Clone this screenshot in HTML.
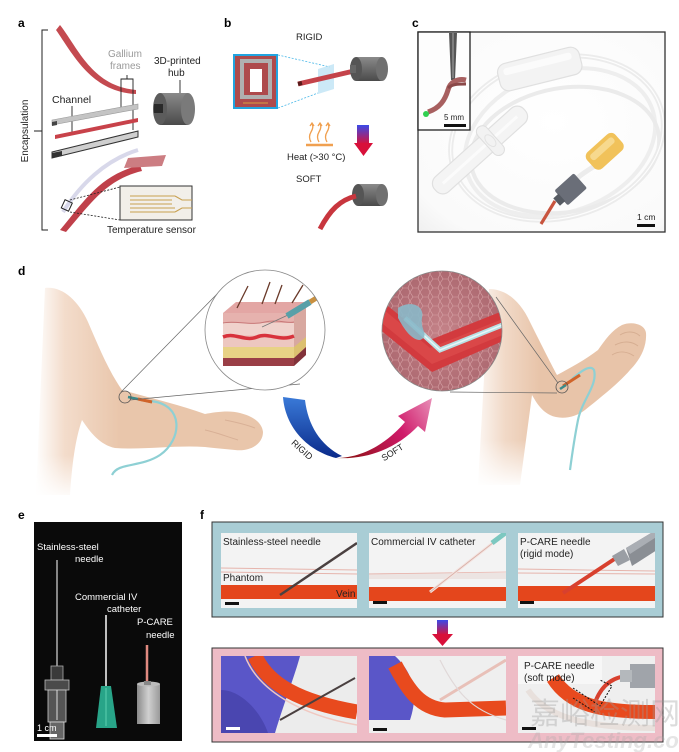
<!DOCTYPE html>
<html><head><meta charset="utf-8"><style>
html,body{margin:0;padding:0;background:#fff;}
svg{display:block}
text{font-family:"Liberation Sans",Arial,sans-serif;}
</style></head><body>
<svg width="679" height="752" viewBox="0 0 679 752" xmlns="http://www.w3.org/2000/svg">
<defs>
  <linearGradient id="skinL" gradientUnits="userSpaceOnUse" x1="35" y1="0" x2="120" y2="0">
    <stop offset="0" stop-color="#ffffff"/><stop offset="0.35" stop-color="#f3dccb"/><stop offset="1" stop-color="#e9c6ab"/>
  </linearGradient>
  <linearGradient id="skinR" gradientUnits="userSpaceOnUse" x1="470" y1="0" x2="540" y2="0">
    <stop offset="0" stop-color="#ffffff"/><stop offset="0.5" stop-color="#f1d9c7"/><stop offset="1" stop-color="#e8c4a9"/>
  </linearGradient>
  <linearGradient id="fadeB" x1="0" y1="0" x2="0" y2="1">
    <stop offset="0" stop-color="#fff" stop-opacity="0"/><stop offset="1" stop-color="#fff" stop-opacity="1"/>
  </linearGradient>
  <linearGradient id="bluegrad" x1="0" y1="0" x2="0" y2="1">
    <stop offset="0" stop-color="#3a7ad8"/><stop offset="1" stop-color="#0a2a8a"/>
  </linearGradient>
  <linearGradient id="pinkgrad" gradientUnits="userSpaceOnUse" x1="340" y1="455" x2="432" y2="398">
    <stop offset="0" stop-color="#8a1010"/><stop offset="0.6" stop-color="#d01a6a"/><stop offset="1" stop-color="#e890b8"/>
  </linearGradient>
  <linearGradient id="arrowBR" x1="0" y1="0" x2="0" y2="1">
    <stop offset="0" stop-color="#3a4ae8"/><stop offset="1" stop-color="#d8103a"/>
  </linearGradient>
  <linearGradient id="cylG" x1="0" y1="0" x2="0" y2="1">
    <stop offset="0" stop-color="#8a8a8a"/><stop offset="0.5" stop-color="#6a6a6a"/><stop offset="1" stop-color="#4a4a4a"/>
  </linearGradient>
  <linearGradient id="pcareG" x1="0" y1="0" x2="1" y2="0">
    <stop offset="0" stop-color="#8a8a8a"/><stop offset="0.5" stop-color="#d0d0d0"/><stop offset="1" stop-color="#9a9a9a"/>
  </linearGradient>
  <radialGradient id="cellG" cx="0.5" cy="0.5" r="0.6">
    <stop offset="0" stop-color="#c48288"/><stop offset="1" stop-color="#a8646c"/>
  </radialGradient>
  <radialGradient id="photoBg" cx="0.55" cy="0.45" r="0.8">
    <stop offset="0" stop-color="#ffffff"/><stop offset="0.8" stop-color="#fafafa"/><stop offset="1" stop-color="#eeeeee"/>
  </radialGradient>
  <pattern id="cells" width="10" height="9" patternUnits="userSpaceOnUse">
    <path d="M0,4 L3,0 L8,0 L10,4 L8,9 L3,9 Z" fill="none" stroke="#d7a2a6" stroke-width="0.6"/>
  </pattern>
  <clipPath id="cL"><circle cx="265" cy="330" r="60"/></clipPath>
  <clipPath id="cR"><circle cx="442" cy="331" r="60"/></clipPath>
  <clipPath id="p1"><rect x="221" y="533" width="136" height="75"/></clipPath>
  <clipPath id="p2"><rect x="369" y="533" width="137" height="75"/></clipPath>
  <clipPath id="p3"><rect x="518" y="533" width="137" height="75"/></clipPath>
  <clipPath id="p4"><rect x="221" y="656" width="136" height="77"/></clipPath>
  <clipPath id="p5"><rect x="369" y="656" width="137" height="77"/></clipPath>
  <clipPath id="p6"><rect x="518" y="656" width="137" height="77"/></clipPath>
  <clipPath id="pc"><rect x="418" y="32" width="247" height="200"/></clipPath>
</defs>

<!-- ================= PANEL A ================= -->
<text x="18" y="27" font-size="12" font-weight="bold">a</text>
<path d="M48,30 L42,30 L42,230 L48,230 M42,131 L34,131" fill="none" stroke="#222" stroke-width="1"/>
<text transform="translate(28,131) rotate(-90)" text-anchor="middle" font-size="10" fill="#222">Encapsulation</text>
<path d="M60,25 C78,48 92,86 136,90 L136,94 C92,92 74,56 56,30 Z" fill="#c44a50"/>
<text x="108" y="57" font-size="10" fill="#9a9a9a">Gallium</text>
<text x="110" y="69" font-size="10" fill="#9a9a9a">frames</text>
<path d="M121,107 L121,79 L133,79 L133,130 M127,79 L127,75" fill="none" stroke="#222" stroke-width="0.9"/>
<text x="154" y="64" font-size="10" fill="#222">3D-printed</text>
<text x="168" y="76" font-size="10" fill="#222">hub</text>
<line x1="180" y1="80" x2="180" y2="104" stroke="#222" stroke-width="0.9"/>
<rect x="160" y="93" width="28" height="32" fill="url(#cylG)"/>
<ellipse cx="188" cy="109" rx="7" ry="16" fill="#7a7a7a"/>
<ellipse cx="160" cy="109" rx="7" ry="16" fill="#5c5c5c"/>
<rect x="154" y="104" width="9" height="9" fill="#2a2a2a"/>
<text x="52" y="103" font-size="10.5" fill="#222">Channel</text>
<line x1="72" y1="106" x2="72" y2="133" stroke="#222" stroke-width="0.9"/>
<polygon points="52,120 138,104 138,109 52,125" fill="#c4c4c4" stroke="#9a9a9a" stroke-width="0.6"/>
<polygon points="52,122 57,121 57,125 52,126" fill="#444"/>
<polygon points="55,135 138,118 138,122 55,139" fill="#c8424a"/>
<polygon points="52,152 138,131 138,137 52,158" fill="#cfcfcf" stroke="#333" stroke-width="1"/>
<polygon points="52,153 62,151 62,156 52,158" fill="#333"/>
<path d="M63,212 C80,185 105,160 138,150" fill="none" stroke="#d8d8ea" stroke-width="4"/>
<path d="M60,230 C85,200 100,175 140,165 L142,171 C105,180 90,205 66,232 Z" fill="#c0404a"/>
<polygon points="128,158 166,155 162,166 124,168" fill="#cc7d82"/>
<rect x="63" y="201" width="8" height="9" fill="none" stroke="#222" stroke-width="1" transform="rotate(25 67 205)"/>
<path d="M70,200 L120,187 M70,212 L120,220" stroke="#222" stroke-width="0.8" stroke-dasharray="2,1.5"/>
<rect x="120" y="186" width="72" height="34" fill="#f2efe9" stroke="#333" stroke-width="1"/>
<path d="M130,196 H175 M130,200 H172 M130,204 H172 M130,208 H175 M130,212 H175 M175,196 L182,200 H192 M175,212 L182,208 H192" fill="none" stroke="#c8a050" stroke-width="1.1"/>
<text x="107" y="233" font-size="10" fill="#222">Temperature sensor</text>

<!-- ================= PANEL B ================= -->
<text x="224" y="27" font-size="12" font-weight="bold">b</text>
<text x="296" y="40" font-size="9.5" fill="#222">RIGID</text>
<rect x="234" y="55" width="43" height="53" fill="#ae4a4c" stroke="#22a4e0" stroke-width="2"/>
<rect x="240" y="59" width="32" height="40" fill="#b0b0b0"/>
<rect x="244" y="63" width="24" height="32" fill="#ae4a4c"/>
<rect x="250" y="69" width="12" height="23" fill="#fff"/>
<line x1="243" y1="103" x2="268" y2="103" stroke="#d8a040" stroke-width="1"/>
<path d="M278,55 L330,67 M278,108 L318,93" stroke="#4ab8e8" stroke-width="0.8" stroke-dasharray="2,1.5"/>
<polygon points="318,69 334,64 334,89 318,94" fill="#bfe3f5" opacity="0.8"/>
<path d="M298,84 L354,71" stroke="#c4434a" stroke-width="5"/>
<path d="M298,84 L302,83" stroke="#5a1a1a" stroke-width="4"/>
<rect x="356" y="57" width="26" height="24" fill="url(#cylG)"/>
<ellipse cx="382" cy="69" rx="6" ry="12" fill="#707070"/>
<ellipse cx="356" cy="69" rx="6" ry="12" fill="#555"/>
<rect x="350" y="65" width="6" height="8" fill="#666"/>
<line x1="306" y1="145" x2="333" y2="145" stroke="#f0a050" stroke-width="2.5"/>
<path d="M311,142 q-3,-5 0,-10 q3,-5 1,-8 M319,142 q-3,-5 0,-10 q3,-5 1,-8 M327,142 q-3,-5 0,-10 q3,-5 1,-8" fill="none" stroke="#f0a050" stroke-width="1.3"/>
<path d="M310,126 l2,-3 l2,3 M318,126 l2,-3 l2,3 M326,126 l2,-3 l2,3" fill="none" stroke="#f0a050" stroke-width="1.3"/>
<text x="287" y="160" font-size="9.5" fill="#222">Heat (&gt;30 °C)</text>
<rect x="357" y="125" width="12" height="19" fill="url(#arrowBR)"/>
<polygon points="354,143 373,143 363.5,156" fill="#d8103a"/>
<text x="296" y="182" font-size="9.5" fill="#222">SOFT</text>
<rect x="358" y="184" width="24" height="22" fill="url(#cylG)"/>
<ellipse cx="382" cy="195" rx="6" ry="11" fill="#707070"/>
<ellipse cx="358" cy="195" rx="6" ry="11" fill="#555"/>
<path d="M320,229 C330,210 340,200 356,196" fill="none" stroke="#c8363e" stroke-width="5"/>

<!-- ================= PANEL C ================= -->
<text x="412" y="27" font-size="12" font-weight="bold">c</text>
<rect x="418" y="32" width="247" height="200" fill="url(#photoBg)"/>
<g clip-path="url(#pc)">
  <ellipse cx="557" cy="138" rx="108" ry="80" transform="rotate(-15 557 138)" fill="none" stroke="#ececec" stroke-width="5"/>
  <ellipse cx="560" cy="142" rx="98" ry="70" transform="rotate(-20 560 142)" fill="none" stroke="#eeeeee" stroke-width="4"/>
  <ellipse cx="565" cy="150" rx="95" ry="62" transform="rotate(-10 565 150)" fill="none" stroke="#ebebeb" stroke-width="4"/>
  <ellipse cx="557" cy="138" rx="108" ry="80" transform="rotate(-15 557 138)" fill="none" stroke="#fdfdfd" stroke-width="1.2"/>
  <!-- drip chamber body -->
  <g transform="rotate(-42 480 150)">
    <rect x="420" y="140" width="120" height="20" rx="9" fill="#f4f4f4" stroke="#e0e0e0" stroke-width="1.2"/>
    <line x1="430" y1="150" x2="530" y2="150" stroke="#fbfbfb" stroke-width="3"/>
    <rect x="488" y="132" width="12" height="36" rx="6" fill="#f2f2f2" stroke="#dedede"/>
    <ellipse cx="494" cy="150" rx="4" ry="7" fill="none" stroke="#e2e2e2"/>
  </g>
  <!-- top cap -->
  <g transform="rotate(-14 540 70)">
    <rect x="498" y="55" width="84" height="28" rx="9" fill="#f3f3f3" stroke="#e0e0e0" stroke-width="1.2"/>
    <rect x="504" y="60" width="70" height="7" rx="3" fill="#fbfbfb"/>
  </g>
  <path d="M604,160 C585,172 575,178 570,186" stroke="#ececec" stroke-width="5" fill="none"/>
  <g transform="rotate(-42 604 152)">
    <rect x="586" y="141" width="38" height="22" rx="6" fill="#f1c25a"/>
    <rect x="590" y="145" width="30" height="7" rx="3" fill="#f7d98e"/>
  </g>
  <g transform="rotate(-42 570 190)">
    <rect x="558" y="180" width="26" height="20" rx="2" fill="#6a6e78"/>
    <rect x="552" y="185" width="7" height="10" fill="#555a62"/>
  </g>
  <path d="M555,201 L541,224" stroke="#c8543e" stroke-width="3.2"/>
  <text x="637" y="220" font-size="8.5" fill="#222">1 cm</text>
  <rect x="637" y="224" width="18" height="3" fill="#111"/>
</g>
<rect x="418" y="32" width="247" height="200" fill="none" stroke="#333" stroke-width="1.3"/>
<rect x="418" y="32" width="52" height="98" fill="#fdfdfd" stroke="#222" stroke-width="1.3"/>
<polygon points="449,33 457,33 455,80 451,80" fill="#555"/>
<line x1="453" y1="33" x2="453" y2="78" stroke="#bbb" stroke-width="0.8"/>
<path d="M428,112 C440,108 445,100 448,90 C450,82 458,78 466,80" fill="none" stroke="#a86060" stroke-width="5"/>
<path d="M448,88 C452,84 458,84 466,84" fill="none" stroke="#8a4848" stroke-width="3"/>
<circle cx="426" cy="114" r="3" fill="#30d050"/>
<text x="444" y="120" font-size="8" fill="#222">5 mm</text>
<rect x="444" y="124" width="22" height="3" fill="#111"/>

<!-- ================= PANEL D ================= -->
<text x="18" y="275" font-size="12" font-weight="bold">d</text>
<path d="M45,288 C62,286 78,300 88,322 C98,345 108,370 122,390 C150,398 180,405 205,414 C215,412 230,410 240,413 C252,416 262,422 263,432 C263,444 250,452 235,450 C225,449 213,448 205,447 C175,445 145,450 115,448 C100,445 90,432 82,420 C75,440 72,465 70,495 L36,495 Z" fill="url(#skinL)"/>
<path d="M205,430 C215,432 225,436 238,440 M225,420 C235,422 245,424 255,428" fill="none" stroke="#d8b096" stroke-width="1"/>
<rect x="34" y="455" width="70" height="45" fill="url(#fadeB)"/>
<path d="M150,401 C185,404 182,440 160,455 C140,468 118,462 112,475" fill="none" stroke="#8ed0d4" stroke-width="2.2"/>
<path d="M128,397 L152,402" stroke="#3a8a8a" stroke-width="2.5"/>
<path d="M138,399 L152,402" stroke="#d0642a" stroke-width="3"/>
<circle cx="125" cy="397" r="6" fill="none" stroke="#555" stroke-width="0.8"/>
<line x1="121" y1="392" x2="218" y2="293" stroke="#666" stroke-width="0.7"/>
<line x1="130" y1="400" x2="300" y2="384" stroke="#666" stroke-width="0.7"/>
<circle cx="265" cy="330" r="60" fill="#fff"/>
<g clip-path="url(#cL)">
  <polygon points="223,313 236,302 306,302 294,313" fill="#e3a6a4"/>
  <rect x="223" y="313" width="71" height="10" fill="#e6b2ae"/>
  <rect x="223" y="323" width="71" height="12" fill="#f0d2cc"/>
  <rect x="223" y="335" width="71" height="12" fill="#edc7c0"/>
  <rect x="223" y="347" width="71" height="11" fill="#e8d285"/>
  <rect x="223" y="358" width="71" height="8" fill="#9a3e46"/>
  <polygon points="294,313 306,302 306,355 294,366" fill="#d8a8a0"/>
  <polygon points="294,347 306,337 306,347 294,358" fill="#dcc070"/>
  <polygon points="294,358 306,347 306,355 294,366" fill="#82323a"/>
  <path d="M223,337 C235,332 245,342 257,337 C268,332 280,342 294,336" fill="none" stroke="#d8323c" stroke-width="3.5"/>
  <path d="M223,323 C235,320 250,326 265,322 C278,319 288,324 294,322" fill="none" stroke="#c87878" stroke-width="1"/>
  <path d="M237,308 L248,286 M262,304 L270,282 M275,304 L282,285 M292,303 L303,285" stroke="#6a3a2a" stroke-width="1.3"/>
  <line x1="262" y1="327" x2="288" y2="315" stroke="#777" stroke-width="0.8"/>
  <path d="M287,316 L310,302" stroke="#58a0a8" stroke-width="6"/>
  <path d="M310,302 L318,297" stroke="#c89040" stroke-width="5"/>
</g>
<circle cx="265" cy="330" r="60" fill="none" stroke="#888" stroke-width="0.8"/>
<path d="M283,397 L305,400 C308,425 320,445 342,456 L336,458 C305,450 285,425 283,397 Z" fill="url(#bluegrad)"/>
<path d="M336,458 C365,458 390,440 405,422 L398,416 L432,398 L425,432 L418,426 C400,445 372,460 336,458 Z" fill="url(#pinkgrad)"/>
<text transform="translate(300,452) rotate(42)" text-anchor="middle" font-size="9" fill="#222">RIGID</text>
<text transform="translate(394,455) rotate(-32)" text-anchor="middle" font-size="9" fill="#222">SOFT</text>
<path d="M489,289 C505,289 520,300 530,322 C540,342 550,362 557,375 C570,368 585,360 598,350 C605,340 612,330 622,325 C632,321 645,324 646,333 C647,347 640,360 630,370 C620,382 600,398 585,410 C575,418 560,420 550,415 C540,410 535,400 532,395 C528,425 524,455 520,485 L478,485 Z" fill="url(#skinR)"/>
<path d="M620,335 C628,330 636,332 640,336 M615,345 C625,340 633,342 638,346 M612,355 C620,350 628,352 634,356" fill="none" stroke="#d6ae92" stroke-width="1"/>
<rect x="476" y="440" width="60" height="48" fill="url(#fadeB)"/>
<path d="M572,379 C580,372 590,364 594,370 C598,385 582,400 578,420 C574,440 572,455 570,470" fill="none" stroke="#8ed0d4" stroke-width="2.2"/>
<path d="M563,386 L580,375" stroke="#d0642a" stroke-width="3"/>
<path d="M560,389 L566,385" stroke="#3a8a8a" stroke-width="2.5"/>
<circle cx="562" cy="387" r="6" fill="none" stroke="#555" stroke-width="0.8"/>
<line x1="558" y1="383" x2="496" y2="297" stroke="#666" stroke-width="0.7"/>
<line x1="557" y1="393" x2="450" y2="392" stroke="#666" stroke-width="0.7"/>
<g clip-path="url(#cR)">
  <rect x="380" y="270" width="125" height="125" fill="url(#cellG)"/>
  <rect x="380" y="270" width="125" height="125" fill="url(#cells)"/>
  <path d="M378,298 L430,340 L505,310 L505,340 L432,372 L378,328 Z" fill="#d23a3e"/>
  <path d="M378,305 L430,348 L505,318 L505,334 L432,364 L378,320 Z" fill="#e05050" opacity="0.6"/>
  <path d="M405,318 L440,350 L505,324" fill="none" stroke="#b8e0e4" stroke-width="5"/>
  <path d="M405,318 L440,350 L505,324" fill="none" stroke="#e8f6f8" stroke-width="1.5"/>
  <path d="M398,308 C410,300 425,305 422,318 C420,330 430,336 420,340 C410,340 402,325 398,318 Z" fill="#8ab8c8" opacity="0.9"/>
</g>
<circle cx="442" cy="331" r="60" fill="none" stroke="#888" stroke-width="0.8"/>

<!-- ================= PANEL E ================= -->
<text x="18" y="519" font-size="12" font-weight="bold">e</text>
<rect x="34" y="522" width="148" height="219" fill="#0a0a0a"/>
<line x1="57" y1="560" x2="57" y2="668" stroke="#d8d8d8" stroke-width="1.2"/>
<rect x="51" y="666" width="12" height="14" fill="#3a3a3a" stroke="#aaa" stroke-width="0.8"/>
<rect x="45" y="680" width="24" height="10" fill="#4a4a4a" stroke="#bbb" stroke-width="0.8"/>
<rect x="48" y="690" width="18" height="32" fill="#555" stroke="#ccc" stroke-width="0.8"/>
<rect x="50" y="722" width="14" height="17" fill="#666" stroke="#ddd" stroke-width="0.8"/>
<line x1="57" y1="690" x2="57" y2="720" stroke="#ddd" stroke-width="1"/>
<line x1="106" y1="615" x2="106" y2="686" stroke="#eee" stroke-width="1.6"/>
<polygon points="101,686 111,686 117,728 96,728" fill="#28a488"/>
<line x1="106" y1="688" x2="106" y2="726" stroke="#5cd0b0" stroke-width="1"/>
<line x1="147" y1="645" x2="147" y2="686" stroke="#e08a80" stroke-width="2.5"/>
<rect x="137" y="684" width="23" height="40" fill="url(#pcareG)"/>
<ellipse cx="148.5" cy="684" rx="11.5" ry="2.5" fill="#bbb"/>
<rect x="144" y="681" width="7" height="4" fill="#888"/>
<text x="37" y="550" font-size="9.5" fill="#fff">Stainless-steel</text>
<text x="75" y="562" font-size="9.5" fill="#fff">needle</text>
<text x="75" y="600" font-size="9.5" fill="#fff">Commercial IV</text>
<text x="107" y="612" font-size="9.5" fill="#fff">catheter</text>
<text x="137" y="625" font-size="9.5" fill="#fff">P-CARE</text>
<text x="146" y="638" font-size="9.5" fill="#fff">needle</text>
<text x="37" y="731" font-size="9" fill="#fff">1 cm</text>
<rect x="37" y="734" width="20" height="3" fill="#fff"/>

<!-- ================= PANEL F ================= -->
<text x="200" y="519" font-size="12" font-weight="bold">f</text>
<rect x="212" y="522" width="451" height="95" fill="#a9cdd5" stroke="#333" stroke-width="1"/>
<g clip-path="url(#p1)">
  <rect x="221" y="533" width="136" height="75" fill="#f3f3f3"/>
  <path d="M221,568 L357,570 M221,572 L357,574" stroke="#e6b4ac" stroke-width="1"/>
  <rect x="221" y="585" width="136" height="14" fill="#e4461c"/>
  <path d="M357,543 L280,595" stroke="#4a4040" stroke-width="2.5"/>
</g>
<text x="223" y="545" font-size="10" fill="#222">Stainless-steel needle</text>
<text x="223" y="581" font-size="10" fill="#222">Phantom</text>
<text x="336" y="597" font-size="10" fill="#222">Vein</text>
<rect x="225" y="602" width="14" height="3" fill="#111"/>
<g clip-path="url(#p2)">
  <rect x="369" y="533" width="137" height="75" fill="#f3f3f3"/>
  <rect x="369" y="573" width="137" height="6" fill="#ece4e2"/>
  <path d="M369,574 L506,572" stroke="#e8b4ac" stroke-width="0.8"/>
  <rect x="369" y="587" width="137" height="14" fill="#e4461c"/>
  <path d="M503,535 L430,592" stroke="#f4e4e0" stroke-width="3"/>
  <path d="M503,535 L430,592" stroke="#d8b0a8" stroke-width="0.8"/>
  <path d="M508,531 L492,543" stroke="#7cc8c0" stroke-width="5"/>
</g>
<text x="371" y="545" font-size="10" fill="#222">Commercial IV catheter</text>
<rect x="373" y="601" width="14" height="3" fill="#111"/>
<g clip-path="url(#p3)">
  <rect x="518" y="533" width="137" height="75" fill="#f3f3f3"/>
  <path d="M518,569 L655,571 M518,573 L655,574" stroke="#e6b4ac" stroke-width="1"/>
  <rect x="518" y="586" width="137" height="15" fill="#e4461c"/>
  <path d="M616,558 L563,593" stroke="#d8402e" stroke-width="4"/>
  <polygon points="626,548 656,530 660,548 632,566" fill="#8a8e94"/>
  <polygon points="626,548 656,530 658,536 630,554" fill="#aaaeb4"/>
  <polygon points="612,556 624,549 630,560 618,566" fill="#9a9ea4"/>
</g>
<text x="520" y="545" font-size="10" fill="#222">P-CARE needle</text>
<text x="520" y="557" font-size="10" fill="#222">(rigid mode)</text>
<rect x="520" y="601" width="14" height="3" fill="#111"/>
<rect x="437" y="620" width="11" height="15" fill="url(#arrowBR)"/>
<polygon points="432,634 453,634 442.5,646" fill="#d8103a"/>
<rect x="212" y="648" width="451" height="94" fill="#eebcc6" stroke="#333" stroke-width="1"/>
<g clip-path="url(#p4)">
  <rect x="221" y="656" width="136" height="77" fill="#ececec"/>
  <path d="M221,656 L300,656 C295,675 285,700 275,733 L221,733 Z" fill="#5a56c8"/>
  <path d="M221,690 C240,690 260,710 268,733 L221,733 Z" fill="#4a46b0"/>
  <path d="M255,656 C268,685 300,702 357,712" fill="none" stroke="#e84a1e" stroke-width="15"/>
  <path d="M245,656 C258,690 300,715 357,725" fill="none" stroke="#f0c8c0" stroke-width="1.5"/>
  <path d="M355,678 L280,720" stroke="#4a4040" stroke-width="2"/>
</g>
<rect x="226" y="727" width="14" height="3" fill="#fff"/>
<g clip-path="url(#p5)">
  <rect x="369" y="656" width="137" height="77" fill="#efefef"/>
  <path d="M369,656 L395,656 C410,670 420,690 410,720 L369,720 Z" fill="#5a56c8"/>
  <path d="M395,665 C408,690 420,708 445,710 L506,708" fill="none" stroke="#e84a1e" stroke-width="15"/>
  <path d="M506,660 L440,700" stroke="#e8c0b8" stroke-width="3"/>
  <path d="M440,660 C455,690 470,710 506,720" fill="none" stroke="#e0d8d8" stroke-width="1.2"/>
</g>
<rect x="373" y="728" width="14" height="3" fill="#111"/>
<g clip-path="url(#p6)">
  <rect x="518" y="656" width="137" height="77" fill="#efefef"/>
  <rect x="518" y="656" width="84" height="28" fill="#f7f7f7"/>
  <path d="M528,690 C545,715 580,728 655,728" fill="none" stroke="#e8e0dc" stroke-width="6"/>
  <path d="M553,678 C570,705 600,712 655,712" fill="none" stroke="#e84a1e" stroke-width="14"/>
  <path d="M630,676 C612,676 602,686 596,700" fill="none" stroke="#d8402e" stroke-width="4"/>
  <rect x="630" y="664" width="26" height="24" fill="#a0a4aa"/>
  <rect x="620" y="670" width="12" height="12" fill="#b4b8bc"/>
  <path d="M573,688 L600,706 L612,686 L600,680 M573,698 L595,712" fill="none" stroke="#111" stroke-width="1" stroke-dasharray="2,1.5"/>
</g>
<text x="524" y="669" font-size="10" fill="#222">P-CARE needle</text>
<text x="524" y="681" font-size="10" fill="#222">(soft mode)</text>
<rect x="522" y="727" width="14" height="3" fill="#111"/>
<text x="530" y="724" font-size="30" fill="#9a9a9a" opacity="0.35" font-family="'Liberation Sans','Noto Sans CJK SC',sans-serif">嘉峪检测网</text>
<text x="528" y="748" font-size="22" font-style="italic" font-weight="bold" fill="#aaa" opacity="0.3">AnyTesting.com</text>
</svg>
</body></html>
